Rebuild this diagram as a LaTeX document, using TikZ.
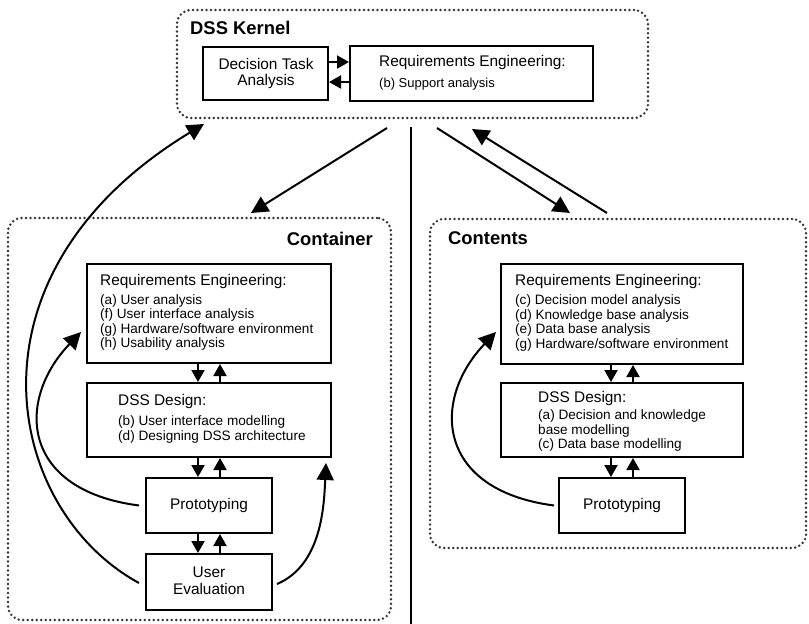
\documentclass[tikz,border=0pt]{standalone}
\usepackage{fontspec}
\setmainfont{Liberation Sans}
\usetikzlibrary{arrows.meta,calc}
\begin{document}
\begin{tikzpicture}[x=1pt,y=-1pt,
  dotbox/.style={draw=black!80, line width=2.7pt, dash pattern=on 0pt off 4.5pt, line cap=round, rounded corners=14pt, inner sep=0pt},
  bx/.style={draw, line width=2pt, inner sep=0pt},
  hdr/.style={font=\fontsize{15.4}{17}\selectfont, inner sep=0pt, anchor=west},
  itm/.style={font=\fontsize{13.6}{14.6}\selectfont, inner sep=0pt, anchor=west, align=left},
  ttl/.style={font=\bfseries\fontsize{18.4}{20}\selectfont, inner sep=0pt},
  ctr/.style={font=\fontsize{15.4}{16.5}\selectfont, inner sep=0pt, align=center},
  conn/.style={line width=2pt, -{Triangle[length=17pt,width=17pt]}},
  small/.style={line width=2pt, -{Triangle[length=12pt,width=13pt]}},
]
\useasboundingbox[fill=white] (0,0) rectangle (809,624);

% ---------- dotted group boxes ----------
\node[dotbox, minimum width=471pt, minimum height=108pt] (kernel) at (412.5,64) {};
\node[dotbox, minimum width=383pt, minimum height=402pt] (container) at (199.5,419) {};
\node[dotbox, minimum width=376pt, minimum height=329pt] (contents) at (618,383.5) {};

\node[ttl, anchor=west] (kerneltitle) at (190,28) {DSS Kernel};
\node[ttl, anchor=east] (containertitle) at (373,239) {Container};
\node[ttl, anchor=west] (contentstitle) at (448,238) {Contents};

% ---------- kernel ----------
\node[bx, minimum width=125pt, minimum height=53pt] (dta) at (265.5,73.5) {};
\node[ctr] (dtatext) at (266,73.5) {Decision Task\\Analysis};
\node[bx, minimum width=243pt, minimum height=55pt] (kre) at (471.5,73.5) {};
\node[hdr] (krehdr) at (379,63) {Requirements Engineering:};
\node[itm, font=\fontsize{13}{14}\selectfont] (kreitm) at (379,84) {(b) Support analysis};

\draw[small] ($(dta.east)+(0,-11.5)$) -- ($(kre.west)+(0,-11.5)$);
\draw[small] ($(kre.west)+(0,8.5)$) -- ($(dta.east)+(0,8.5)$);

% ---------- container ----------
\node[bx, minimum width=244pt, minimum height=99pt] (cre) at (209,313.5) {};
\node[hdr] (crehdr) at (100,282) {Requirements Engineering:};
\node[itm] (creitm) at (100,322.5) {(a) User analysis\\(f) User interface analysis\\(g) Hardware/software environment\\(h) Usability analysis};

\node[bx, minimum width=244pt, minimum height=74pt] (cdd) at (209,420) {};
\node[hdr] (cddhdr) at (118,402) {DSS Design:};
\node[itm] (cdditm) at (118,429.5) {(b) User interface modelling\\(d) Designing DSS architecture};

\node[bx, minimum width=126pt, minimum height=55pt] (cpr) at (209,505.5) {};
\node[ctr] (cprtext) at (209,505.5) {Prototyping};

\node[bx, minimum width=126pt, minimum height=56pt] (cue) at (209,582) {};
\node[ctr] (cuetext) at (209,581) {User\\Evaluation};

\draw[small] ($(cre.south)+(-11,0)$) -- ($(cdd.north)+(-11,0)$);
\draw[small] ($(cdd.north)+(11,0)$) -- ($(cre.south)+(11,0)$);
\draw[small] ($(cdd.south)+(-11,0)$) -- ($(cpr.north)+(-11,0)$);
\draw[small] ($(cpr.north)+(11,0)$) -- ($(cdd.south)+(11,0)$);
\draw[small] ($(cpr.south)+(-11,0)$) -- ($(cue.north)+(-11,0)$);
\draw[small] ($(cue.north)+(11,0)$) -- ($(cpr.south)+(11,0)$);

% ---------- contents ----------
\node[bx, minimum width=242pt, minimum height=100pt] (tre) at (622,314) {};
\node[hdr] (trehdr) at (515,282) {Requirements Engineering:};
\node[itm] (treitm) at (515,323) {(c) Decision model analysis\\(d) Knowledge base analysis\\(e) Data base analysis\\(g) Hardware/software environment};

\node[bx, minimum width=242pt, minimum height=74pt] (tdd) at (622,420) {};
\node[hdr] (tddhdr) at (538,399) {DSS Design:};
\node[itm] (tdditm) at (538,430.5) {(a) Decision and knowledge\\base modelling\\(c) Data base modelling};

\node[bx, minimum width=126pt, minimum height=55pt] (tpr) at (622,505.5) {};
\node[ctr] (tprtext) at (622,505.5) {Prototyping};

\draw[small] ($(tre.south)+(-11,0)$) -- ($(tdd.north)+(-11,0)$);
\draw[small] ($(tdd.north)+(11,0)$) -- ($(tre.south)+(11,0)$);
\draw[small] ($(tdd.south)+(-11,0)$) -- ($(tpr.north)+(-11,0)$);
\draw[small] ($(tpr.north)+(11,0)$) -- ($(tdd.south)+(11,0)$);

% ---------- connectors between groups ----------
\coordinate (v1) at (411,127);
\coordinate (v2) at (411,624);
\draw[line width=2pt] (v1) -- (v2);

\coordinate (a1s) at (387,128);
\coordinate (a1e) at (251,213);
\draw[conn] (a1s) -- (a1e);

\coordinate (a2s) at (437,128);
\coordinate (a2e) at (570,213);
\draw[conn] (a2s) -- (a2e);

\coordinate (a3s) at (607,213);
\coordinate (a3e) at (472,129);
\draw[conn] (a3s) -- (a3e);

% ---------- feedback curves ----------
\coordinate (uetip) at (204,124);
\draw[conn] ($(cue.west)+(-6,1)$) .. controls (5,510) and (-45,275) .. (uetip);
\draw[conn] ($(cpr.west)+(-6,0)$) .. controls (20,490) and (16,400) .. ($(cre.west)+(-5,18.5)$);
\draw[conn] ($(cue.east)+(4,2)$) .. controls (322,565) and (324,505) .. ($(cdd.south east)+(-6,5)$);
\draw[conn] ($(tpr.west)+(-4,0)$) .. controls (436,490) and (431,400) .. ($(tre.west)+(-4,18)$);
\end{tikzpicture}
\end{document}
